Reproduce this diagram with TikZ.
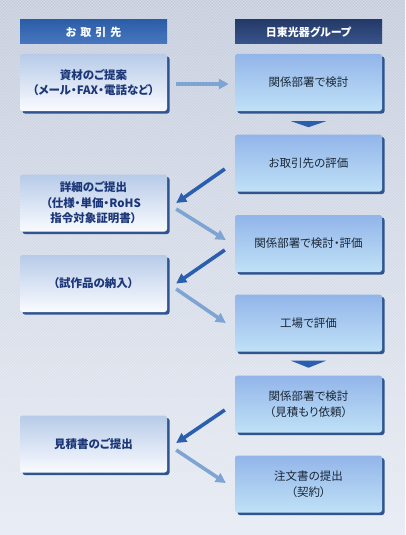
\documentclass[tikz,border=0pt]{standalone}
\usepackage{fontspec}
\setmainfont[RawFeature=+palt]{Noto Sans CJK JP}
\usetikzlibrary{calc,shadows,patterns,arrows.meta}
\definecolor{bgtop}{HTML}{C6CEDE}
\definecolor{bgbot}{HTML}{E7EBF3}
\definecolor{hlTop}{HTML}{2C5EA8}
\definecolor{hlBot}{HTML}{4777BE}
\definecolor{hrTop}{HTML}{243A68}
\definecolor{hrBot}{HTML}{38548C}
\definecolor{lbTop}{HTML}{B7CBE8}
\definecolor{lbBot}{HTML}{FAFBFF}
\definecolor{rbTop}{HTML}{92B5EA}
\definecolor{rbBot}{HTML}{C0E1F6}
\definecolor{shadowc}{HTML}{2F5590}
\definecolor{ltext}{HTML}{1C3778}
\definecolor{rtext}{HTML}{1A2636}
\definecolor{darkarr}{HTML}{2A5EAE}
\definecolor{lightarr}{HTML}{7DA4D3}
\tikzset{
  base/.style={minimum width=147pt, minimum height=57pt, inner sep=0pt, align=center,
    font=\fontsize{11.5}{15.5}\selectfont, rounded corners=2.5pt,
    drop shadow={shadow xshift=2.5pt, shadow yshift=-2.5pt, fill=shadowc, opacity=1}},
  leftbox/.style={base, top color=lbTop, bottom color=lbBot, text=ltext, font=\fontsize{11.5}{15.5}\selectfont\bfseries},
  rightbox/.style={base, top color=rbTop, bottom color=rbBot, text=rtext},
  headl/.style={minimum width=147pt, minimum height=24pt, inner sep=0pt, top color=hlTop, bottom color=hlBot,
    text=white, font=\fontsize{11}{13}\selectfont\bfseries},
  headr/.style={headl, top color=hrTop, bottom color=hrBot},
  darr/.style={draw=darkarr, line width=3.6pt, -{Triangle[length=10pt,width=10pt]}},
  larr/.style={draw=lightarr, line width=3.6pt, -{Triangle[length=10pt,width=10pt]}},
  tri/.style={fill=darkarr, draw=none}
}
\begin{document}
\begin{tikzpicture}[x=1pt,y=-1pt]
\useasboundingbox (0,0) rectangle (405,535);
\shade[top color=bgtop, bottom color=bgbot] (0,0) rectangle (405,535);
\fill[pattern=north east lines, pattern color=white, opacity=0.3] (0,0) rectangle (405,535);

\node[headl] (HL) at (93.5,32) {お\hspace{4pt}取\hspace{4pt}引\hspace{4pt}先};
\node[headr] (HR) at (308.5,32) {日東光器グループ};

\node[leftbox] (L1) at (93.5,82.5) {資材のご提案\\（メール・FAX・電話など）};
\node[leftbox] (L2) at (93.5,203) {詳細のご提出\\（仕様・単価・RoHS\\指令対象証明書）};
\node[leftbox] (L3) at (93.5,283.5) {（試作品の納入）};
\node[leftbox] (L4) at (93.5,444) {見積書のご提出};

\node[rightbox] (R1) at (308.5,82.5) {関係部署で検討};
\node[rightbox] (R2) at (308.5,163) {お取引先の評価};
\node[rightbox] (R3) at (308.5,243.5) {関係部署で検討・評価};
\node[rightbox] (R4) at (308.5,323) {工場で評価};
\node[rightbox] (R5) at (308.5,404) {関係部署で検討\\（見積もり依頼）};
\node[rightbox] (R6) at (308.5,484) {注文書の提出\\（契約）};

\draw[larr] ($(L1.east)+(9,1.5)$) -- ($(R1.west)+(-6,1.5)$);

\fill[tri] ($(R1.south)+(-17.5,10)$) -- ($(R1.south)+(17.5,10)$) -- ($(R1.south)+(0,16)$) -- cycle;
\fill[tri] ($(R4.south)+(-17.5,9)$) -- ($(R4.south)+(17.5,9)$) -- ($(R4.south)+(0,16)$) -- cycle;

\draw[darr] ($(R2.west)+(-10,6)$) -- ($(L2.east)+(9,0)$);
\draw[larr] ($(L2.east)+(9,6)$) -- ($(R3.west)+(-9,-3.5)$);
\draw[darr] ($(R3.west)+(-10,6.5)$) -- ($(L3.east)+(9,0)$);
\draw[larr] ($(L3.east)+(9,5.5)$) -- ($(R4.west)+(-9,0)$);
\draw[darr] ($(R5.west)+(-10,6)$) -- ($(L4.east)+(9,-1)$);
\draw[larr] ($(L4.east)+(9,6)$) -- ($(R6.west)+(-9,-1)$);
\end{tikzpicture}
\end{document}
